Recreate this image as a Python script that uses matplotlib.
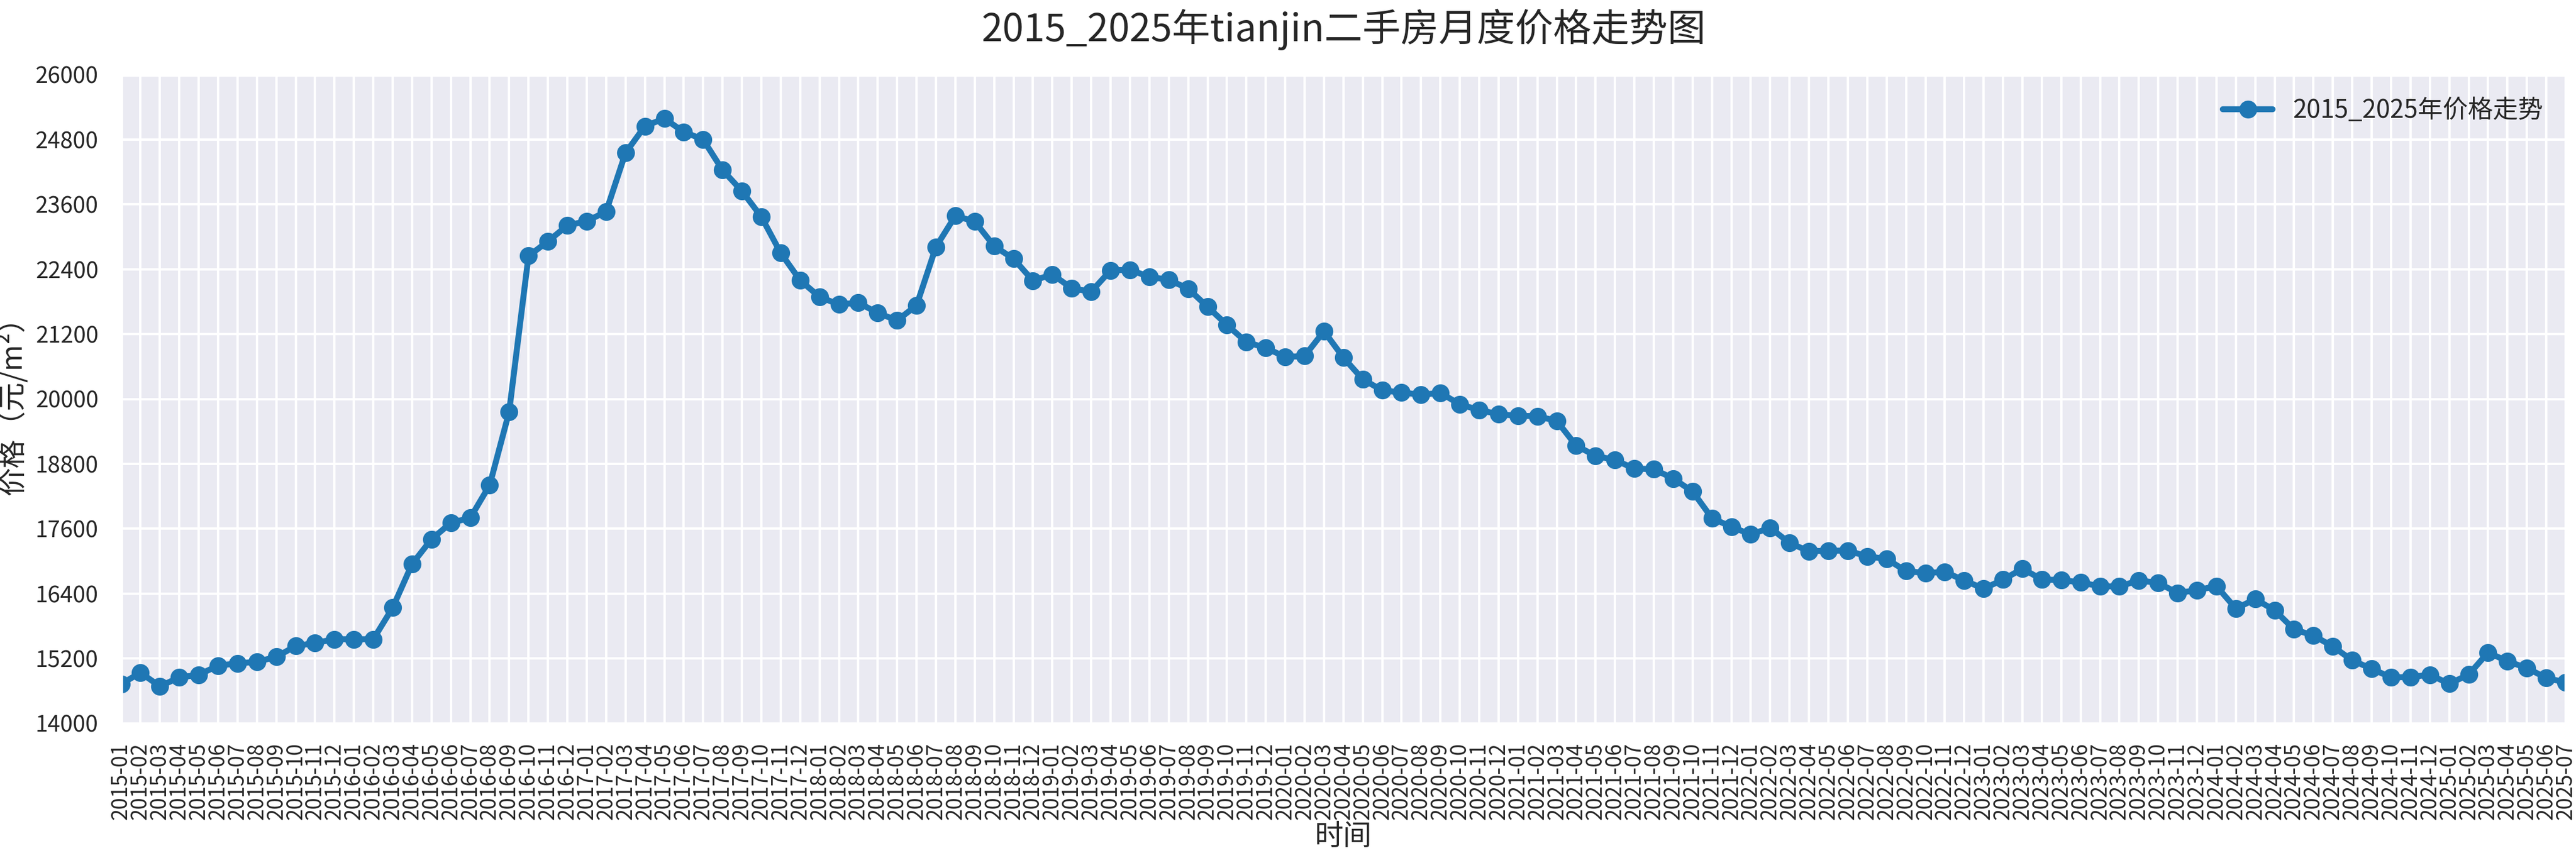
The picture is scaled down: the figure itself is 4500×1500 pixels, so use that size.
import matplotlib
matplotlib.use("Agg")
import matplotlib.pyplot as plt
import seaborn as sns
import pandas as pd

# month labels 2015-01 .. 2025-07
months = [str(p) for p in pd.period_range("2015-01", "2025-07", freq="M")]

# average second-hand price, yuan per m2
prices = [
    14725, 14937, 14684, 14850, 14896, 15068, 15108, 15137, 15229, 15429, 15486, 15555,
    15555, 15555, 16139, 16947, 17405, 17709, 17800, 18408, 19759, 22646, 22915, 23210,
    23290, 23466, 24553, 25047, 25188, 24941, 24800, 24235, 23847, 23371, 22700, 22196,
    21889, 21747, 21783, 21589, 21455, 21730, 22813, 23388, 23283, 22828, 22594, 22188,
    22305, 22047, 21984, 22379, 22390, 22259, 22206, 22040, 21705, 21370, 21052, 20946,
    20777, 20794, 21253, 20766, 20364, 20159, 20120, 20078, 20113, 19901, 19795, 19718,
    19689, 19682, 19594, 19135, 18948, 18870, 18712, 18701, 18528, 18288, 17794, 17635,
    17494, 17617, 17335, 17183, 17194, 17194, 17088, 17040, 16815, 16780, 16801, 16643,
    16491, 16657, 16861, 16660, 16650, 16607, 16533, 16533, 16643, 16597, 16410, 16463,
    16537, 16122, 16298, 16090, 15737, 15624, 15420, 15165, 15008, 14849, 14856, 14898,
    14731, 14902, 15310, 15147, 15023, 14838, 14756,
]

y_ticks = list(range(14000, 26001, 1200))

sns.set_theme(style="darkgrid")
plt.rcParams["font.family"] = ["Noto Sans CJK SC", "DejaVu Sans"]
plt.rcParams["axes.unicode_minus"] = False

fig, ax = plt.subplots(figsize=(15, 5), dpi=300)
fig.subplots_adjust(left=0.047, right=0.996, top=0.913, bottom=0.157)

x = list(range(len(months)))
ax.plot(x, prices, color="#1f77b4", linewidth=2.5, marker="o", markersize=6.5,
        label="2015_2025年价格走势")

ax.set_xlim(0, len(months) - 1)
ax.set_xticks(x)
ax.set_xticklabels(months, rotation=90, fontsize=8.8)
ax.tick_params(axis="x", pad=2)
ax.set_ylim(14000, 26000)
ax.set_yticks(y_ticks)
ax.tick_params(axis="y", labelsize=9.5)

ax.set_title("2015_2025年tianjin二手房月度价格走势图", fontsize=16, pad=14)
ax.set_xlabel("时间", fontsize=12)
ax.xaxis.set_label_coords(0.5, -0.152)
ax.set_ylabel("价格（元/m²）", fontsize=12, labelpad=3)
ax.legend(loc="upper right", fontsize=10.5, frameon=False)

fig.savefig("out.png", dpi=300)
